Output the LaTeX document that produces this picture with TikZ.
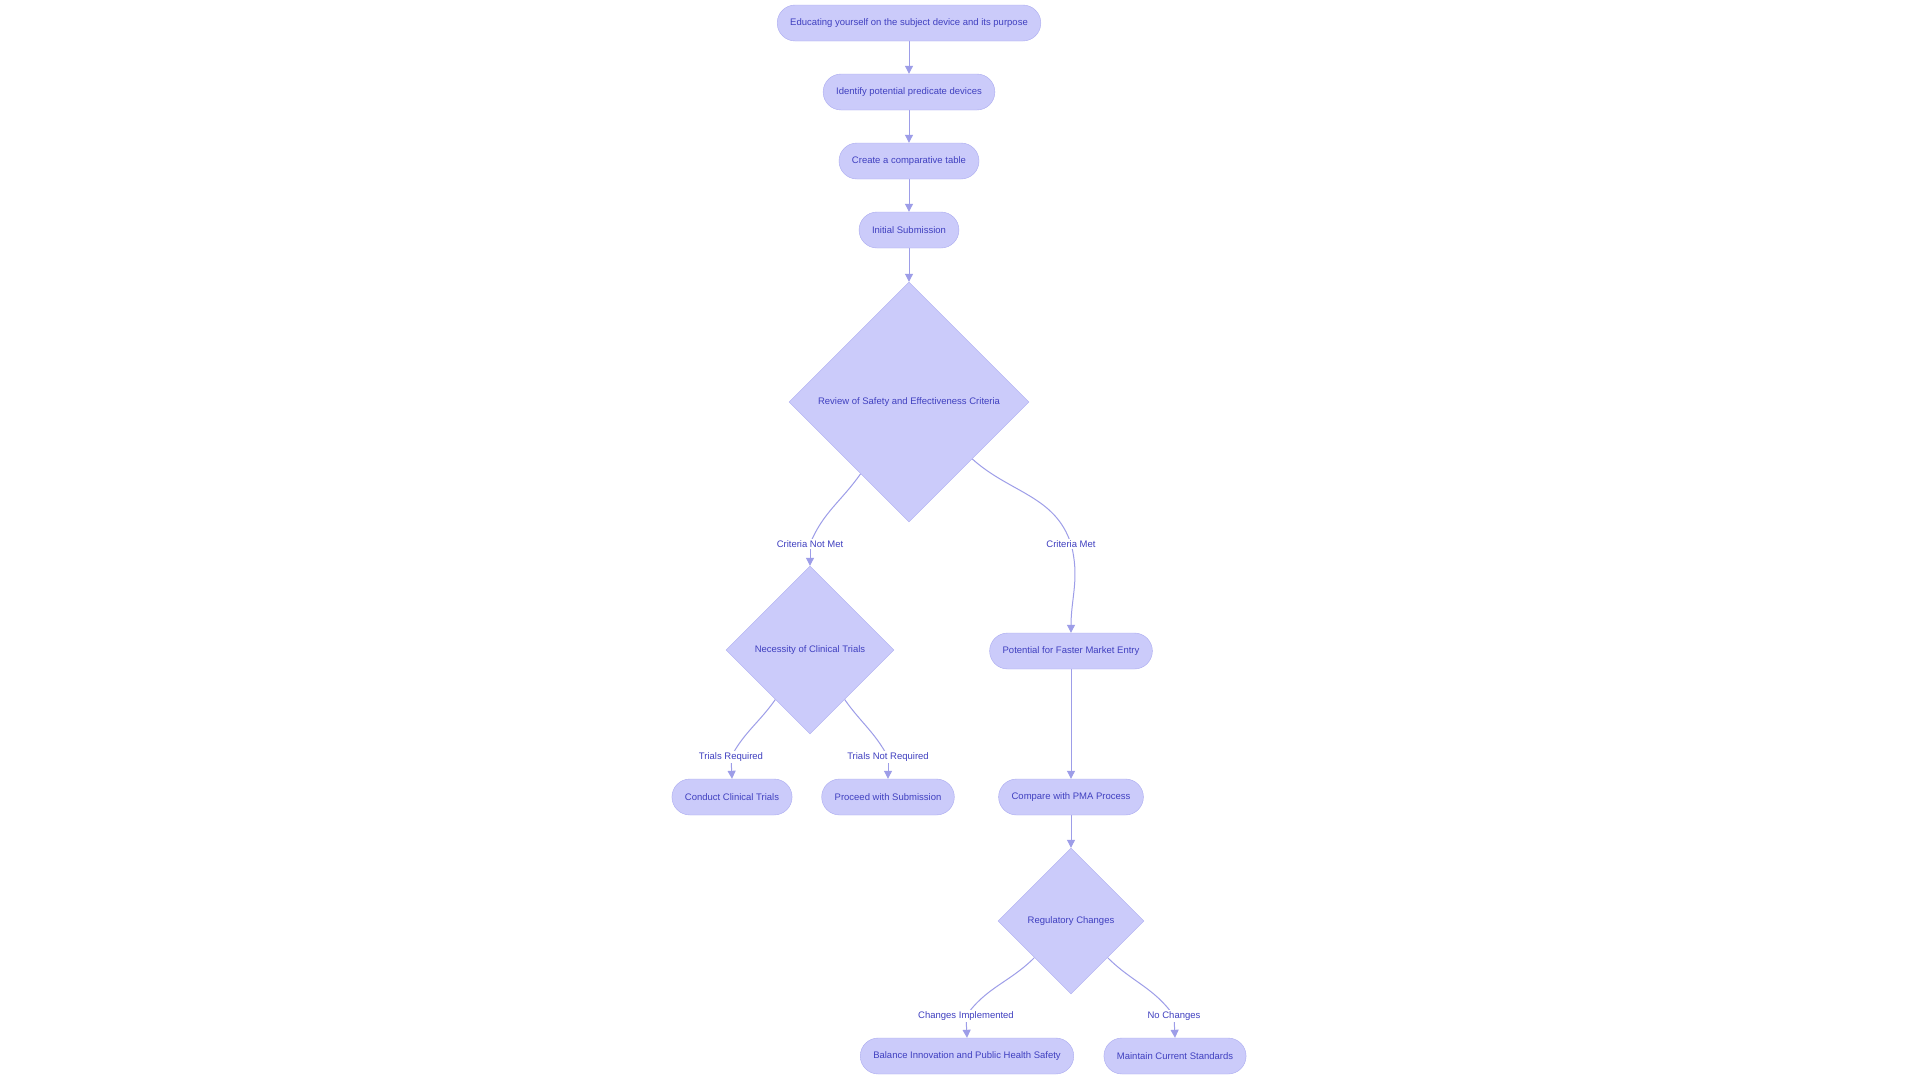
\documentclass[tikz,border=0pt]{standalone}
\usepackage{fontspec}
\setmainfont{Liberation Sans}
\usepackage{tikz}
\usetikzlibrary{shapes.geometric, arrows.meta, backgrounds}

\definecolor{boxfill}{HTML}{CBCBFA}
\definecolor{boxline}{HTML}{ABABF0}
\definecolor{edgeline}{HTML}{9D9DE8}
\definecolor{boxtext}{HTML}{4040C0}

\tikzset{
    pill/.style={draw=boxline, fill=boxfill, text=boxtext, rounded corners=18pt,
        minimum height=36pt, inner xsep=13pt, font=\fontsize{9.5}{11}\selectfont},
    decision/.style={diamond, aspect=1, draw=boxline, fill=boxfill, text=boxtext,
        inner sep=0pt, font=\fontsize{9.5}{11}\selectfont},
    edgelabel/.style={fill=white, text=boxtext, inner sep=1.5pt, font=\fontsize{9.5}{11}\selectfont},
    arr/.style={draw=edgeline, line width=1pt, -{Triangle[length=8pt,width=8pt]}},
    seg/.style={draw=edgeline, line width=1pt}
}

\begin{document}
\begin{tikzpicture}[x=1pt, y=-1pt]
    \useasboundingbox (0,0) rectangle (1920,1080);

    % main column
    \node[pill] (educate) at (909, 23) {Educating yourself on the subject device and its purpose};
    \node[pill] (predicate) at (909, 92) {Identify potential predicate devices};
    \node[pill] (table) at (909, 161) {Create a comparative table};
    \node[pill] (submit) at (909, 230) {Initial Submission};
    \node[decision, minimum size=240pt] (review) at (909, 402) {Review of Safety and Effectiveness Criteria};

    % left branch
    \node[decision, minimum size=168pt] (clinical) at (810, 650) {Necessity of Clinical Trials};
    \node[pill] (conduct) at (732, 797) {Conduct Clinical Trials};
    \node[pill] (proceed) at (888, 797) {Proceed with Submission};

    % right branch
    \node[pill] (faster) at (1071, 651) {Potential for Faster Market Entry};
    \node[pill] (pma) at (1071, 797) {Compare with PMA Process};
    \node[decision, minimum size=146pt] (regulatory) at (1071, 921) {Regulatory Changes};
    \node[pill] (balance) at (967, 1056) {Balance Innovation and Public Health Safety};
    \node[pill] (maintain) at (1175, 1056) {Maintain Current Standards};

    % edge labels
    \node[edgelabel] (notmet) at (810, 544) {Criteria Not Met};
    \node[edgelabel] (met) at (1071, 544) {Criteria Met};
    \node[edgelabel] (required) at (731, 757) {Trials Required};
    \node[edgelabel] (notrequired) at (888, 757) {Trials Not Required};
    \node[edgelabel] (implemented) at (966, 1016) {Changes Implemented};
    \node[edgelabel] (nochanges) at (1174, 1016) {No Changes};

    \begin{scope}[on background layer]
        \fill[white] (0,0) rectangle (1920,1080);

        \draw[arr] (educate) -- (predicate);
        \draw[arr] (predicate) -- (table);
        \draw[arr] (table) -- (submit);
        \draw[arr] (submit) -- (review);
        \draw[arr] (faster) -- (pma);
        \draw[arr] (pma) -- (regulatory);

        % curved branches run under their labels
        \draw[seg] (review.-124) to[out=-125, in=68] (notmet.center);
        \draw[arr] (notmet.center) -- (clinical.north);
        \draw[seg] (review.-42) to[out=-42, in=108] (met.center);
        \draw[arr] (met.center) to[out=-75, in=90] (faster.north);

        \draw[seg] (clinical.-125) to[out=-125, in=62] (required.center);
        \draw[arr] (required.center) -- (conduct.north);
        \draw[seg] (clinical.-55) to[out=-55, in=118] (notrequired.center);
        \draw[arr] (notrequired.center) -- (proceed.north);

        \draw[seg] (regulatory.-135) to[out=-135, in=55] (implemented.center);
        \draw[arr] (implemented.center) -- (balance.north);
        \draw[seg] (regulatory.-45) to[out=-45, in=125] (nochanges.center);
        \draw[arr] (nochanges.center) -- (maintain.north);
    \end{scope}
\end{tikzpicture}
\end{document}
